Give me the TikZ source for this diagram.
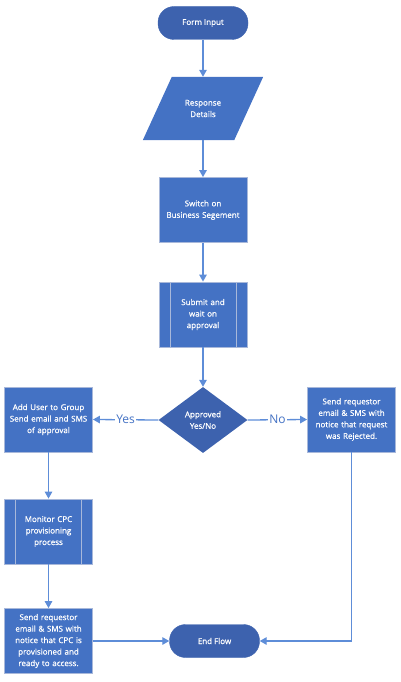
\documentclass[tikz,border=0pt]{standalone}
\usepackage{fontspec}
\setmainfont{Open Sans}
\newfontfamily\boxfont[FakeBold=0.8]{Open Sans}
\usetikzlibrary{shapes.geometric,arrows.meta,backgrounds}
\definecolor{termblue}{HTML}{3D62AE}
\definecolor{procblue}{HTML}{4472C4}
\definecolor{edgegray}{HTML}{A8B8DA}
\definecolor{linkblue}{HTML}{5E8DD8}
\begin{document}
\begin{tikzpicture}[
    x=1pt, y=-1pt,
    term/.style={fill=termblue, draw=termblue, rounded corners=16pt,
      minimum width=90pt, minimum height=33pt, text=white,
      font=\boxfont\fontsize{8}{11.5}\selectfont},
    iobox/.style={rectangle, minimum width=62pt, minimum height=63pt, text=white,
      inner sep=0pt, align=center, font=\boxfont\fontsize{8}{11.5}\selectfont},
    proc/.style={rectangle, fill=procblue, draw=edgegray, line width=0.8pt,
      minimum width=88pt, minimum height=65pt, text=white, align=center,
      text width=86pt, inner sep=1pt, font=\boxfont\fontsize{8}{11.5}\selectfont},
    subproc/.style={proc, path picture={
        \draw[edgegray, line width=0.8pt]
          ([xshift=11pt]path picture bounding box.north west) --
          ([xshift=11pt]path picture bounding box.south west);
        \draw[edgegray, line width=0.8pt]
          ([xshift=-11pt]path picture bounding box.north east) --
          ([xshift=-11pt]path picture bounding box.south east);}},
    decision/.style={diamond, aspect=1.35, fill=termblue, minimum width=89pt,
      minimum height=66pt, inner sep=0pt, text=white, align=center,
      font=\boxfont\fontsize{8}{11.5}\selectfont},
    link/.style={draw=linkblue, line width=1.3pt,
      -{Triangle[width=7.5pt,length=7pt]}},
    answer/.style={fill=white, text=procblue, inner sep=1pt,
      font=\fontsize{12}{14}\selectfont},
  ]
    \useasboundingbox (0,0) rectangle (400,682);

    % Main column
    \node[term]     (form)   at (203, 23)  {Form Input};
    \node[iobox]    (resp)   at (203, 108.5) {Response\\Details};
    \node[proc]     (switch) at (203, 210) {Switch on\\Business Segement};
    \node[subproc]  (submit) at (203, 314.5) {Submit and\\wait on\\approval};
    \node[decision] (appr)   at (203, 420) {Approved\\Yes/No};

    % parallelogram behind the response node
    \begin{scope}[on background layer]
      \fill[procblue] ([xshift=-29pt]resp.south west) -- (resp.south east)
        -- ([xshift=29pt]resp.north east) -- (resp.north west) -- cycle;
    \end{scope}

    % Yes branch
    \node[proc]    (adduser) at (48.5, 419.5) {Add User to Group\\Send email and SMS\\of approval};
    \node[subproc] (monitor) at (48.5, 531.5) {Monitor CPC\\provisioning\\process};
    \node[proc]    (ready)   at (48.5, 641)   {Send requestor\\email \& SMS with\\notice that CPC is\\provisioned and\\ready to access.};

    % No branch
    \node[proc] (reject) at (351.5, 419.5) {Send requestor\\email \& SMS with\\notice that request\\was Rejected.};

    % End
    \node[term] (endflow) at (214.5, 641) {End Flow};

    % Connectors
    \draw[link] (form) -- (resp);
    \draw[link] (resp) -- (switch);
    \draw[link] (switch) -- (submit);
    \draw[link] (submit) -- (appr);
    \draw[link] (appr.west) -- node[answer] {Yes} (adduser.east);
    \draw[link] (appr.east) -- node[answer] {No} (reject.west);
    \draw[link] (adduser) -- (monitor);
    \draw[link] (monitor) -- (ready);
    \draw[link] (ready.east) -- (endflow.west);
    \draw[link] (reject.south) |- (endflow.east);
\end{tikzpicture}
\end{document}
